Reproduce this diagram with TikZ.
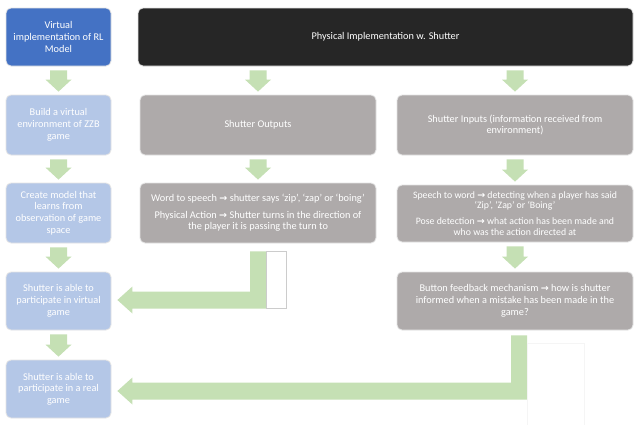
\documentclass[tikz,border=0pt]{standalone}
\usepackage{fontspec}
\setmainfont{Carlito}
\newfontfamily\symfnt{DejaVu Sans}
\usetikzlibrary{calc}
\definecolor{bluedark}{HTML}{4472C4}
\definecolor{bluelight}{HTML}{B4C7E7}
\definecolor{blackbox}{HTML}{262626}
\definecolor{graybox}{HTML}{AEAAAA}
\definecolor{greenarr}{HTML}{C5E0B4}
\newcommand{\myarr}{{\symfnt\bfseries\fontsize{9.5}{10}\selectfont →}}
\tikzset{
  box/.style={rounded corners=5pt, draw=black!10, line width=0.8pt, text=white,
    align=center, inner sep=0pt, font=\fontsize{10.3}{11.7}\selectfont},
  leftbox/.style={box, minimum width=105pt, fill=bluelight},
  graybx/.style={box, minimum width=236pt, fill=graybox},
  arrowfill/.style={fill=greenarr}
}
\newcommand{\downarr}[2]{%
  \fill[arrowfill] let \p1=(#1.south), \p2=(#2.north) in
    (\x2-8.5pt,\y1-4pt) -- (\x2+8.5pt,\y1-4pt) -- (\x2+8.5pt,\y2+15pt) --
    (\x2+13pt,\y2+15pt) -- (\x2,\y2+3pt) -- (\x2-13pt,\y2+15pt) --
    (\x2-8.5pt,\y2+15pt) -- cycle;}
\newcommand{\bentarr}[2]{%
  \fill[arrowfill] let \p1=(#1), \p2=(#2) in
    (\x1-8pt,\y1) -- (\x1+8pt,\y1) -- (\x1+8pt,\y2-8.5pt) --
    (\x2+15pt,\y2-8.5pt) -- (\x2+15pt,\y2-13.5pt) -- (\x2,\y2) --
    (\x2+15pt,\y2+13.5pt) -- (\x2+15pt,\y2+8.5pt) -- (\x1-8pt,\y2+8.5pt) -- cycle;}
\begin{document}
\begin{tikzpicture}[x=1pt,y=-1pt]
\useasboundingbox (0,0) rectangle (634,424);
\fill[white] (0,0) rectangle (634,424);

% left column
\node[leftbox, fill=bluedark, minimum height=58pt] (v1) at (58.5,37)
  {Virtual\\implementation of RL\\Model};
\node[leftbox, minimum height=60pt] (v2) at (58.5,125)
  {Build a virtual\\environment of ZZB\\game};
\node[leftbox, minimum height=60pt] (v3) at (58.5,213)
  {Create model that\\learns from\\observation of game\\space};
\node[leftbox, minimum height=58pt] (v4) at (58.5,301)
  {Shutter is able to\\participate in virtual\\game};
\node[leftbox, minimum height=58pt] (v5) at (58.5,389)
  {Shutter is able to\\participate in a real\\game};

% right part
\node[box, fill=blackbox, minimum width=495pt, minimum height=58pt] (phys) at (385.5,37)
  {Physical Implementation w. Shutter};
\node[graybx, minimum height=60pt] (out) at (258,125) {Shutter Outputs};
\node[graybx, minimum height=60pt] (inp) at (515,125)
  {Shutter Inputs (information received from\\environment)};
\node[graybx, minimum height=60pt] (word) at (258,213)
  {Word to speech \myarr{} shutter says ‘zip’, ‘zap’ or ‘boing’\\[4.5pt]
   Physical Action \myarr{} Shutter turns in the direction of\\the player it is passing the turn to};
\node[graybx, minimum height=57pt, font=\fontsize{9.8}{10.2}\selectfont] (speech) at (515,213.5)
  {Speech to word \myarr{} detecting when a player has said\\‘Zip’, ‘Zap’ or ‘Boing’\\[6pt]
   Pose detection \myarr{} what action has been made and\\who was the action directed at};
\node[graybx, minimum height=58pt] (button) at (515,301)
  {Button feedback mechanism \myarr{} how is shutter\\informed when a mistake has been made in the\\game?};

% down arrows
\downarr{v1}{v2}
\downarr{v2}{v3}
\downarr{v3}{v4}
\downarr{v4}{v5}
\downarr{phys}{out}
\downarr{out}{word}
\downarr{phys}{inp}
\downarr{inp}{speech}
\downarr{speech}{button}

% bent arrows
\bentarr{$(word.south)+(0,8)$}{$(v4.east)+(6,-1)$}
\bentarr{$(button.south)+(4,5)$}{$(v5.east)+(6,2)$}

% faint outline rectangles
\draw[gray!40, line width=0.5pt] (266,251) rectangle (286,308);
\draw[gray!8, line width=0.5pt] (527,343) rectangle (584,430);
\end{tikzpicture}
\end{document}
